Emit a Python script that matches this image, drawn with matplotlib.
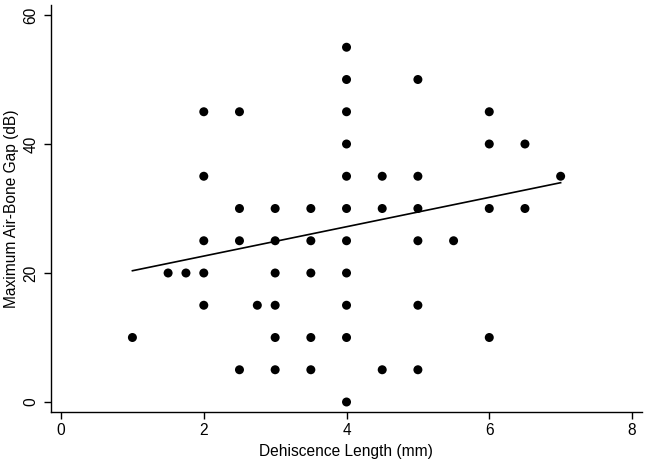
import numpy as np
import matplotlib
matplotlib.use("Agg")
import matplotlib.pyplot as plt

plt.rcParams['font.family'] = ['Liberation Sans', 'DejaVu Sans']

# Data: (dehiscence length, max air-bone gap)
length_mm = [1,
             1.5, 1.75,
             2, 2, 2, 2, 2,
             2.5, 2.5, 2.5, 2.5,
             2.75,
             3, 3, 3, 3, 3, 3,
             3.5, 3.5, 3.5, 3.5, 3.5,
             4, 4, 4, 4, 4, 4, 4, 4, 4, 4, 4,
             4.5, 4.5, 4.5,
             5, 5, 5, 5, 5, 5,
             5.5,
             6, 6, 6, 6,
             6.5, 6.5,
             7]
abg_db = [10,
          20, 20,
          45, 35, 25, 20, 15,
          45, 30, 25, 5,
          15,
          30, 25, 20, 15, 10, 5,
          30, 25, 20, 10, 5,
          55, 50, 45, 40, 35, 30, 25, 20, 15, 10, 0,
          35, 30, 5,
          50, 35, 30, 25, 15, 5,
          25,
          45, 40, 30, 10,
          40, 30,
          35]
# Fitted regression line
fit_x = [1, 7]
fit_y = [20.35, 34.0]
x_ticks = [0, 2, 4, 6, 8]
y_ticks = [0, 20, 40, 60]

fig = plt.figure(figsize=(6.48, 4.62), dpi=100)
ax = fig.add_axes([50.7/648, 1 - 412/462, (642 - 50.7)/648, (412 - 5)/462])

ax.scatter(length_mm, abg_db, s=42, color='black', edgecolors='none', zorder=3)
ax.plot(fit_x, fit_y, color='black', lw=1.2, zorder=2)

ax.set_xlim(-0.145, 8.14)
ax.set_ylim(-1.55, 61.55)
ax.set_xticks(x_ticks)
ax.set_yticks(y_ticks)
ax.set_yticklabels([str(t) for t in y_ticks], rotation=90, va='center')

for s in ['top', 'right']:
    ax.spines[s].set_visible(False)
for s in ['left', 'bottom']:
    ax.spines[s].set_linewidth(1.0)

ax.tick_params(axis='both', length=5, width=1.0, labelsize=11.2)
ax.tick_params(axis='x', pad=3)
ax.tick_params(axis='y', pad=4)

ax.set_xlabel('Dehiscence Length (mm)', fontsize=11.2, labelpad=4)
ax.set_ylabel('Maximum Air-Bone Gap (dB)', fontsize=11.2)
ax.yaxis.set_label_coords(-0.054, 0.5)

fig.savefig('out.png', dpi=100)
